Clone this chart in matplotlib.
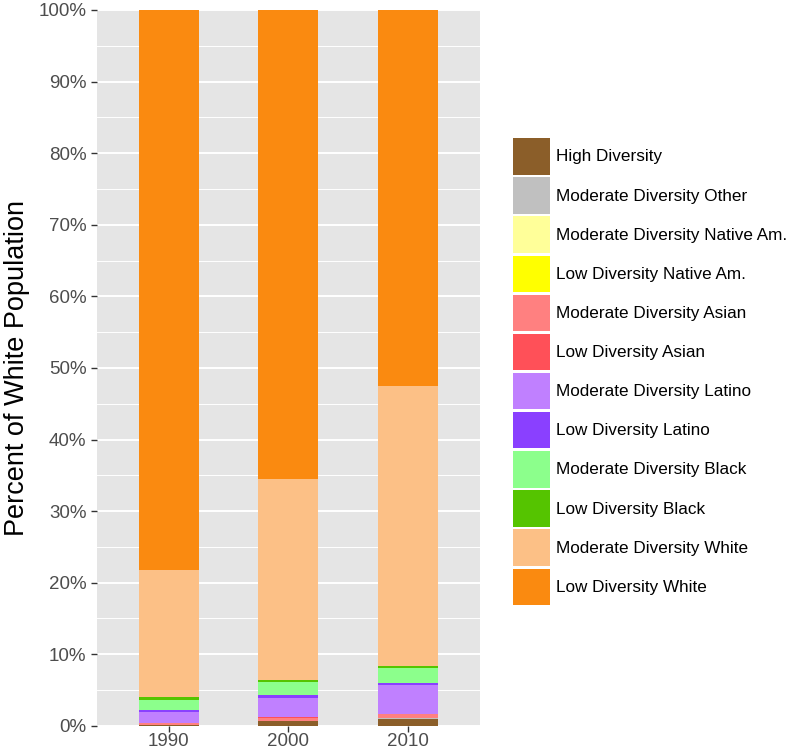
import matplotlib.pyplot as plt
import numpy as np

plt.rcParams['font.family'] = ['Liberation Sans', 'DejaVu Sans']

years = ['1990', '2000', '2010']
categories = ['High Diversity', 'Moderate Diversity Other', 'Moderate Diversity Native Am.',
              'Low Diversity Native Am.', 'Moderate Diversity Asian', 'Low Diversity Asian',
              'Moderate Diversity Latino', 'Low Diversity Latino', 'Moderate Diversity Black',
              'Low Diversity Black', 'Moderate Diversity White', 'Low Diversity White']
colors = ['#8B5E29', '#C0C0C0', '#FFFF99', '#FFFF00', '#FF8080', '#FF5058',
          '#C080FF', '#8A40FF', '#8CFF8C', '#55C400', '#FCC086', '#FA8A10']

# share of white population (%) per year, bottom to top
high_div = [0.1, 0.65, 1.0]
mod_other = [0.02, 0.02, 0.03]
mod_native = [0.02, 0.02, 0.02]
low_native = [0.01, 0.01, 0.01]
mod_asian = [0.25, 0.45, 0.6]
low_asian = [0.05, 0.05, 0.05]
mod_latino = [1.55, 2.75, 4.0]
low_latino = [0.25, 0.3, 0.3]
mod_black = [1.4, 1.9, 2.1]
low_black = [0.4, 0.3, 0.3]
mod_white = [17.7, 28.0, 39.0]
low_white = [78.25, 65.55, 52.59]

series = [high_div, mod_other, mod_native, low_native, mod_asian, low_asian,
          mod_latino, low_latino, mod_black, low_black, mod_white, low_white]

fig = plt.figure(figsize=(8, 7.51), dpi=100)
ax = fig.add_axes([0.121, 0.0335, 0.479, 0.9532])
ax.set_facecolor('#E5E5E5')

x = np.arange(1, len(years) + 1)
bottom = np.zeros(len(years))
handles = []
for vals, col, lab in zip(series, colors, categories):
    b = ax.bar(x, vals, 0.5, bottom=bottom, color=col, label=lab, zorder=3)
    handles.append(b)
    bottom += np.array(vals)

ax.set_xlim(0.4, 3.6)
ax.set_ylim(0, 100)
ax.set_yticks(np.arange(0, 101, 10))
ax.set_yticklabels([f'{v}%' for v in range(0, 101, 10)])
ax.set_yticks(np.arange(5, 100, 10), minor=True)
ax.set_xticks(x)
ax.set_xticklabels(years)

ax.grid(True, which='major', color='white', linewidth=1.4, zorder=0)
ax.grid(True, which='minor', axis='y', color='white', linewidth=0.7, zorder=0)
ax.tick_params(which='major', length=4, color='#333333', labelsize=13.5, labelcolor='#4D4D4D', width=1)
ax.tick_params(axis='x', pad=1)
ax.tick_params(which='minor', length=0)
for s in ax.spines.values():
    s.set_visible(False)

ax.set_ylabel('Percent of White Population', fontsize=19.5, labelpad=6)

# legend keys in the same order as the categories, top to bottom
fig.legend(handles, categories,
           loc='upper left', bbox_to_anchor=(0.641, 0.816), frameon=False,
           fontsize=12.3, handlelength=2.15, handleheight=2.9, labelspacing=0.16,
           handletextpad=0.35, borderaxespad=0, borderpad=0)

fig.savefig('out.png', dpi=100)
